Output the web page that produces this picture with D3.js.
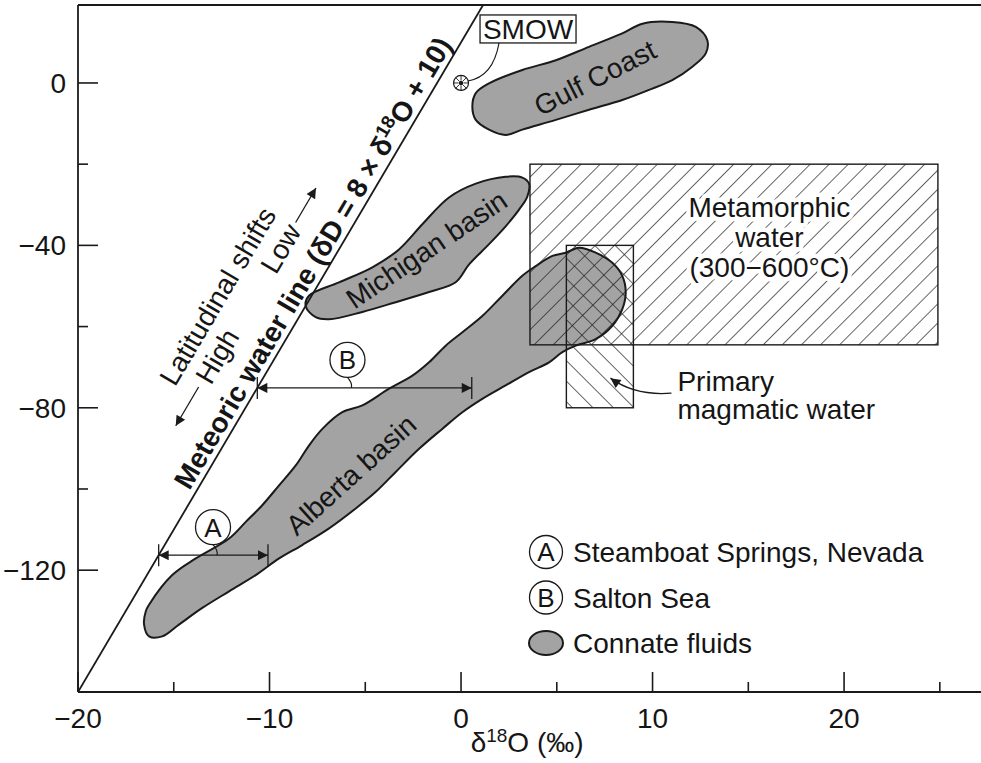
<!DOCTYPE html>
<html>
<head>
<meta charset="utf-8">
<script src="https://cdn.jsdelivr.net/npm/d3@7"></script>
<style>
body { margin: 0; background: #fff; }
text { font-family: "Liberation Sans", Arial, sans-serif; fill: #151515; }
</style>
</head>
<body>
<svg id="chart" width="981" height="763"></svg>
<script>
// axis ticks
var xMajor = [-20, -10, 0, 10, 20];
var xMinor = [-15, -5, 5, 15, 25];
var xLabels = ['\u221220', '\u221210', '0', '10', '20'];
var yMajor = [0, -40, -80, -120];
var yMinor = [-20, -60, -100];
var yLabels = ['0', '\u221240', '\u221280', '\u2212120'];

// meteoric water line: dD = 8 * d18O + 10
var mwlSlope = 8;
var mwlIntercept = 10;

// connate fluid fields (d18O, dD)
var gulfCoast = [[0.77,-2.5],[1.46,-0.1],[3.2,3.2],[4.95,5.6],[6.68,8.9],[8.42,12.2],[9.47,14.6],
  [11.03,15.0],[12.26,13.8],[12.86,10.5],[12.78,7.3],[12.08,4.0],[11.03,0.7],[9.82,-1.7],
  [8.42,-4.2],[6.68,-6.6],[4.95,-9.1],[3.2,-11.5],[2.33,-12.8],[1.46,-11.5],[0.77,-9.1],[0.59,-5.8]];
var michiganBasin = [[-7.94,-52.4],[-6.37,-49.1],[-4.63,-45.4],[-3.24,-41.0],[-2.02,-34.8],[-0.63,-28.2],
  [0.77,-24.8],[2.33,-23.1],[3.2,-23.3],[3.55,-24.8],[3.46,-28.0],[3.03,-31.2],[2.33,-35.3],
  [1.46,-39.7],[0.42,-44.7],[-0.28,-49.1],[-1.67,-51.5],[-3.41,-54.0],[-5.15,-56.4],[-6.89,-58.2],
  [-7.59,-57.7],[-8.11,-55.0]];
var albertaBasin = [[-16.29,-128.5],[-15.08,-121.2],[-13.85,-117.1],[-12.11,-112.2],[-11.24,-108.1],
  [-10.38,-104.0],[-9.5,-99.1],[-8.63,-94.2],[-7.94,-89.3],[-7.24,-85.2],[-6.2,-81.1],[-5.15,-79.4],
  [-3.76,-75.3],[-2.54,-72.1],[-1.67,-68.8],[-0.8,-64.7],[0.07,-61.4],[1.11,-57.4],[2.16,-52.4],
  [3.2,-47.5],[3.9,-45.1],[4.77,-42.6],[5.47,-41.8],[6.16,-40.6],[7.03,-41.8],[7.9,-44.3],
  [8.42,-47.5],[8.6,-51.6],[8.42,-55.7],[7.9,-59.8],[7.03,-63.1],[5.99,-64.7],[5.29,-66.3],
  [4.6,-68.8],[3.55,-71.2],[2.33,-74.5],[1.11,-77.8],[0.07,-81.1],[-0.98,-85.2],[-2.19,-90.1],
  [-3.41,-95.8],[-4.45,-100.7],[-5.5,-104.8],[-6.89,-109.7],[-8.29,-113.8],[-9.5,-117.1],
  [-10.72,-121.2],[-12.11,-125.2],[-13.51,-129.3],[-14.73,-133.4],[-15.6,-136.3],[-16.29,-136.3],
  [-16.55,-133.4],[-16.46,-130.1]];
var fieldLabels = [
  {text: 'Gulf Coast', x: 7.0, y: 1.3, angle: -27},
  {text: 'Michigan basin', x: -1.8, y: -41, angle: -34},
  {text: 'Alberta basin', x: -5.75, y: -96.5, angle: -42}
];

// boxes (d18O range, dD range)
var metamorphicBox = [3.6, 24.9, -20, -64.5];
var magmaticBox = [5.5, 9.0, -40, -80];
var metamorphicText = ['Metamorphic', 'water', '(300\u2212600\u00b0C)'];
var magmaticText = ['Primary', 'magmatic water'];

// oxygen shifts of geothermal waters
var shiftIds = ['A', 'B'];
var shiftD = [-116.3, -75.1];
var shiftEnd = [-10.08, 0.56];
var shiftLabelX = [-12.95, -5.93];

var smow = [0, 0];

var legendIds = ['A', 'B', null];
var legendNames = ['Steamboat Springs, Nevada', 'Salton Sea', 'Connate fluids'];

var svg = d3.select('#chart');
var x = d3.scaleLinear().domain([-20, 27.15]).range([78, 981]);
var y = d3.scaleLinear().domain([-150, 19.2]).range([692, 5]);
var ink = '#1a1a1a';
var gray = '#a3a3a3';
var fs = 28;

var defs = svg.append('defs');
defs.append('marker').attr('id', 'tri')
  .attr('viewBox', '0 0 10 10').attr('refX', 10).attr('refY', 5)
  .attr('markerWidth', 14).attr('markerHeight', 10)
  .attr('markerUnits', 'userSpaceOnUse').attr('orient', 'auto-start-reverse')
  .append('path').attr('d', 'M0,0L10,5L0,10z').attr('fill', ink);

function hatch(id, angle, gap) {
  defs.append('pattern').attr('id', id)
    .attr('patternUnits', 'userSpaceOnUse')
    .attr('width', gap).attr('height', gap)
    .attr('patternTransform', 'rotate(' + angle + ')')
    .append('line').attr('x1', 0).attr('y1', 0).attr('x2', 0).attr('y2', gap)
    .attr('stroke', '#222').attr('stroke-width', 1.4);
}
hatch('hMeta', 45, 13.5);
hatch('hMag', -45, 14.5);

defs.append('clipPath').attr('id', 'plot').append('rect')
  .attr('x', x(-20)).attr('y', y(19.2)).attr('width', x(27.15) - x(-20)).attr('height', y(-150) - y(19.2));

// frame and axes
svg.append('line').attr('x1', x(-20)).attr('x2', x(27.15)).attr('y1', y(-150)).attr('y2', y(-150))
  .attr('stroke', ink).attr('stroke-width', 1.8);
svg.append('line').attr('x1', x(-20)).attr('x2', x(27.15)).attr('y1', y(19.2)).attr('y2', y(19.2))
  .attr('stroke', ink).attr('stroke-width', 1.8);
svg.append('line').attr('x1', x(-20)).attr('x2', x(-20)).attr('y1', y(-150)).attr('y2', y(19.2))
  .attr('stroke', ink).attr('stroke-width', 1.8);

svg.selectAll('.xt').data(xMajor.concat(xMinor)).enter().append('line')
  .attr('x1', function(d) { return x(d); }).attr('x2', function(d) { return x(d); })
  .attr('y1', y(-150))
  .attr('y2', function(d) { return y(-150) - (xMajor.indexOf(d) >= 0 ? 20 : 10); })
  .attr('stroke', ink).attr('stroke-width', 1.6);
svg.selectAll('.yt').data(yMajor.concat(yMinor)).enter().append('line')
  .attr('y1', function(d) { return y(d); }).attr('y2', function(d) { return y(d); })
  .attr('x1', x(-20))
  .attr('x2', function(d) { return x(-20) + (yMajor.indexOf(d) >= 0 ? 20 : 10); })
  .attr('stroke', ink).attr('stroke-width', 1.6);

svg.selectAll('.xl').data(xMajor).enter().append('text')
  .attr('x', function(d) { return x(d); }).attr('y', 728)
  .attr('text-anchor', 'middle').attr('font-size', 28)
  .text(function(d, i) { return xLabels[i]; });
svg.selectAll('.yl').data(yMajor).enter().append('text')
  .attr('x', 66).attr('y', function(d) { return y(d); }).attr('dy', '0.36em')
  .attr('text-anchor', 'end').attr('font-size', 28)
  .text(function(d, i) { return yLabels[i]; });

var xt = svg.append('text').attr('x', x(3.45)).attr('y', 752)
  .attr('text-anchor', 'middle').attr('font-size', fs);
xt.append('tspan').text('\u03b4');
xt.append('tspan').attr('dy', -10).attr('font-size', 19).text('18');
xt.append('tspan').attr('dy', 10).text('O (\u2030)');

// connate fields
var area = d3.line().x(function(d) { return x(d[0]); }).y(function(d) { return y(d[1]); })
  .curve(d3.curveCatmullRomClosed.alpha(0.5));
[gulfCoast, michiganBasin, albertaBasin].forEach(function(f) {
  svg.append('path').attr('d', area(f))
    .attr('fill', gray).attr('stroke', ink).attr('stroke-width', 2);
});

// boxes with hatching
function box(b, pat) {
  svg.append('rect')
    .attr('x', x(b[0])).attr('y', y(b[2]))
    .attr('width', x(b[1]) - x(b[0])).attr('height', y(b[3]) - y(b[2]))
    .attr('fill', 'url(#' + pat + ')').attr('stroke', ink).attr('stroke-width', 1.4);
}
box(metamorphicBox, 'hMeta');
box(magmaticBox, 'hMag');

svg.selectAll('.fl').data(fieldLabels).enter().append('text')
  .attr('transform', function(d) { return 'translate(' + x(d.x) + ',' + y(d.y) + ') rotate(' + d.angle + ')'; })
  .attr('text-anchor', 'middle').attr('dy', '0.35em').attr('font-size', fs)
  .text(function(d) { return d.text; });

// metamorphic label with white halo over the hatching
svg.selectAll('.mt').data(metamorphicText).enter().append('text')
  .attr('x', x(16.1)).attr('y', function(d, i) { return y(-33) + i * 30; })
  .attr('text-anchor', 'middle').attr('font-size', fs)
  .attr('stroke', '#fff').attr('stroke-width', 9).attr('paint-order', 'stroke')
  .attr('stroke-linejoin', 'round')
  .text(function(d) { return d; });

var mx = x(11.3), my = y(-75.9);
svg.selectAll('.pm').data(magmaticText).enter().append('text')
  .attr('x', mx).attr('y', function(d, i) { return my + i * 28; })
  .attr('font-size', fs).text(function(d) { return d; });
svg.append('path')
  .attr('d', 'M' + (mx - 6) + ',' + (my + 2) + 'Q' + (mx - 42) + ',' + (my + 5) + ' ' + (mx - 67) + ',' + (my - 13))
  .attr('fill', 'none').attr('stroke', ink).attr('stroke-width', 1.3).attr('marker-end', 'url(#tri)');

// meteoric water line
var mwl = svg.append('g').attr('clip-path', 'url(#plot)');
mwl.append('line')
  .attr('x1', x(-20)).attr('y1', y(mwlSlope * -20 + mwlIntercept))
  .attr('x2', x((19.2 - mwlIntercept) / mwlSlope)).attr('y2', y(19.2))
  .attr('stroke', ink).attr('stroke-width', 1.8);

var p0 = [x(-20), y(mwlSlope * -20 + mwlIntercept)];
var p1 = [x(0), y(mwlIntercept)];
var ang = Math.atan2(p1[1] - p0[1], p1[0] - p0[0]) * 180 / Math.PI;
var ax = -6.9;
var lab = svg.append('g')
  .attr('transform', 'translate(' + x(ax) + ',' + y(mwlSlope * ax + mwlIntercept) + ') rotate(' + ang + ')');
var mt = lab.append('text').attr('x', -5).attr('y', -6)
  .attr('text-anchor', 'middle').attr('font-size', fs).attr('font-weight', 'bold');
mt.append('tspan').text('Meteoric water line (\u03b4D = 8 \u00d7 \u03b4');
mt.append('tspan').attr('dy', -10).attr('font-size', 19).text('18');
mt.append('tspan').attr('dy', 10).text('O + 10)');
lab.append('text').attr('x', -82).attr('y', -71).attr('text-anchor', 'middle')
  .attr('font-size', fs).text('Latitudinal shifts');
lab.append('text').attr('x', -134).attr('y', -41).attr('text-anchor', 'middle')
  .attr('font-size', fs).text('High');
lab.append('text').attr('x', -9).attr('y', -41).attr('text-anchor', 'middle')
  .attr('font-size', fs).text('Low');
lab.append('line').attr('x1', -170).attr('x2', -215).attr('y1', -51).attr('y2', -51)
  .attr('stroke', ink).attr('stroke-width', 1.3).attr('marker-end', 'url(#tri)');
lab.append('line').attr('x1', 21).attr('x2', 61).attr('y1', -51).attr('y2', -51)
  .attr('stroke', ink).attr('stroke-width', 1.3).attr('marker-end', 'url(#tri)');

// A and B shifts
shiftIds.forEach(function(id, i) {
  var yy = y(shiftD[i]);
  var xa = x((shiftD[i] - mwlIntercept) / mwlSlope);
  var xb = x(shiftEnd[i]);
  var g = svg.append('g');
  g.append('line').attr('x1', xa).attr('x2', xb).attr('y1', yy).attr('y2', yy)
    .attr('stroke', ink).attr('stroke-width', 1.3)
    .attr('marker-start', 'url(#tri)').attr('marker-end', 'url(#tri)');
  [xa, xb].forEach(function(e) {
    g.append('line').attr('x1', e).attr('x2', e).attr('y1', yy - 11).attr('y2', yy + 11)
      .attr('stroke', ink).attr('stroke-width', 1.3);
  });
  var cx = x(shiftLabelX[i]);
  g.append('path').attr('d', 'M' + cx + ',' + (yy - 28 + 17.5) + 'Q' + (cx + 5) + ',' + (yy - 5) + ' ' + (cx + 4) + ',' + yy)
    .attr('fill', 'none').attr('stroke', ink).attr('stroke-width', 1.2);
  g.append('circle').attr('cx', cx).attr('cy', yy - 28).attr('r', 17.5)
    .attr('fill', '#fff').attr('stroke', ink).attr('stroke-width', 1.3);
  g.append('text').attr('x', cx).attr('y', yy - 28).attr('dy', '0.36em')
    .attr('text-anchor', 'middle').attr('font-size', 26).text(id);
});

// SMOW
var sx = x(smow[0]), sy = y(smow[1]);
svg.append('circle').attr('cx', sx).attr('cy', sy).attr('r', 7.5)
  .attr('fill', '#fff').attr('stroke', ink).attr('stroke-width', 1.2);
d3.range(8).forEach(function(k) {
  var a = k * Math.PI / 4;
  svg.append('line').attr('x1', sx + 2.5 * Math.cos(a)).attr('y1', sy + 2.5 * Math.sin(a))
    .attr('x2', sx + 7.5 * Math.cos(a)).attr('y2', sy + 7.5 * Math.sin(a))
    .attr('stroke', ink).attr('stroke-width', 0.9);
});
svg.append('circle').attr('cx', sx).attr('cy', sy).attr('r', 2.2).attr('fill', ink);
svg.append('rect').attr('x', sx + 19).attr('y', sy - 68).attr('width', 96).attr('height', 28)
  .attr('fill', '#fff').attr('stroke', ink).attr('stroke-width', 1.3);
svg.append('text').attr('x', sx + 67).attr('y', sy - 44).attr('text-anchor', 'middle')
  .attr('font-size', fs).text('SMOW');
svg.append('path')
  .attr('d', 'M' + (sx + 38) + ',' + (sy - 40) + 'Q' + (sx + 32) + ',' + (sy - 6) + ' ' + (sx + 7) + ',' + (sy - 2))
  .attr('fill', 'none').attr('stroke', ink).attr('stroke-width', 1.1);

// legend
var leg = svg.append('g').attr('transform', 'translate(546,552)');
legendNames.forEach(function(name, i) {
  var row = leg.append('g').attr('transform', 'translate(0,' + (i * 45.5) + ')');
  if (legendIds[i]) {
    row.append('circle').attr('r', 16.5).attr('fill', '#fff').attr('stroke', ink).attr('stroke-width', 1.3);
    row.append('text').attr('text-anchor', 'middle').attr('dy', '0.36em').attr('font-size', 26).text(legendIds[i]);
  } else {
    row.append('ellipse').attr('rx', 17).attr('ry', 12).attr('fill', gray).attr('stroke', ink).attr('stroke-width', 2);
  }
  row.append('text').attr('x', 27).attr('dy', '0.36em').attr('font-size', fs).text(name);
});
</script>
</body>
</html>
